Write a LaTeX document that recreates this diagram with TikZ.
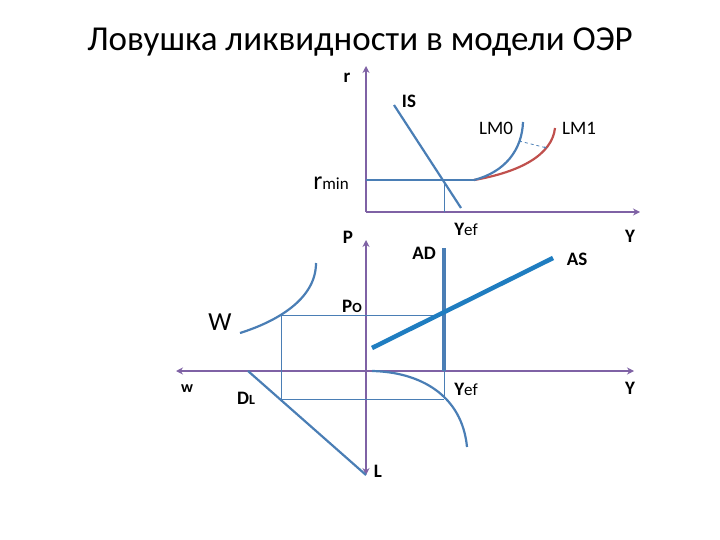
\documentclass[tikz,border=0pt]{standalone}
\usepackage{fontspec}
\setmainfont{Carlito}
\usetikzlibrary{arrows.meta}
\definecolor{ax}{HTML}{7F62A5}
\definecolor{bl}{HTML}{4A7EB5}
\definecolor{rd}{HTML}{C0504D}
\definecolor{lb}{HTML}{1F7DC0}
\begin{document}
\begin{tikzpicture}[x=1pt,y=-1pt,
  axis/.style={ax,line width=1.6pt,-{Stealth[length=7pt,width=7pt]}},
  curve/.style={bl,line width=2.2pt},
  guide/.style={bl,line width=0.6pt},
  lab/.style={font=\bfseries\fontsize{19}{19}\selectfont,inner sep=0pt}]
\useasboundingbox (0,0) rectangle (720,540);
\node[font=\fontsize{35}{35}\selectfont] (title) at (360,42) {Ловушка ликвидности в модели ОЭР};
% top panel
\coordinate (o1) at (366,212);
\coordinate (rt) at (366,66);
\coordinate (yr) at (640,212);
\draw[axis] (o1) -- (rt);
\draw[axis] (o1) -- (yr);
\coordinate (rm) at (366,180);
\coordinate (e1) at (474,180);
\draw[curve] (rm) -- (e1);
\coordinate (is1) at (394,105);
\coordinate (is2) at (461,208);
\draw[curve] (is1) -- (is2);
\coordinate (x1) at (444,180);
\coordinate (x1b) at (444,212);
\draw[guide] (x1) -- (x1b);
\coordinate (lm0) at (523,122);
\coordinate (lm1) at (555,128);
\draw[rd,line width=2.2pt] (e1) .. controls (520,172) and (552,155) .. (lm1);
\draw[curve] (e1) .. controls (505,172) and (522,150) .. (lm0);
\coordinate (d1) at (519,141);
\coordinate (d2) at (547,148);
\draw[bl,line width=0.8pt,dashed,-{Stealth[length=3pt]}] (d1) -- (d2);
\node[lab] (r) at (347,78) {r};
\node[lab] (IS) at (409,101) {IS};
\node[lab,font=\fontsize{19}{19}\selectfont] (LM0) at (496,128) {LM0};
\node[lab,font=\fontsize{19}{19}\selectfont] (LM1) at (579,128) {LM1};
\node[inner sep=0pt] (rmin) at (331,183) {\fontsize{26}{26}\selectfont r\fontsize{17}{17}\selectfont min};
% bottom panel
\coordinate (o2) at (366,371);
\coordinate (pt) at (366,240);
\coordinate (lb0) at (366,475);
\coordinate (wl) at (176,371);
\coordinate (yb) at (634,371);
\draw[axis] (o2) -- (pt);
\draw[axis] (o2) -- (lb0);
\draw[axis] (o2) -- (wl);
\draw[axis] (o2) -- (yb);
\coordinate (p0a) at (281,315);
\coordinate (p0b) at (444,315);
\coordinate (qa) at (281,399);
\coordinate (qb) at (444,399);
\draw[guide] (p0a) -- (p0b);
\draw[guide] (qa) -- (qb);
\draw[guide] (p0a) -- (qa);
\draw[guide] (o2 -| qb) -- (qb);
\coordinate (ad1) at (444,248);
\draw[bl,line width=3.5pt] (ad1) -- (o2 -| ad1);
\coordinate (as1) at (372,348);
\coordinate (as2) at (553,258);
\draw[lb,line width=4.5pt] (as1) -- (as2);
\coordinate (w1) at (240,333);
\coordinate (w2) at (316,263);
\draw[curve] (w1) .. controls (275,322) and (316,300) .. (w2);
\coordinate (dl1) at (248,371);
\draw[curve] (dl1) -- (lb0);
\coordinate (c1) at (372,371);
\coordinate (c2) at (467,447);
\draw[curve] (c1) .. controls (420,372) and (462,395) .. (c2);
\node[lab] (P) at (348,237) {P};
\node[lab] (AD) at (424,253) {AD};
\node[lab] (AS) at (577,259) {AS};
\node[lab] (P0) at (352,306) {P\fontsize{14}{14}\selectfont O};
\node[font=\fontsize{26}{26}\selectfont,inner sep=0pt] (W) at (220,322) {W};
\node[lab,font=\bfseries\fontsize{16}{16}\selectfont] (w) at (187,389) {w};
\node[lab] (DL) at (246,398) {D\fontsize{14}{14}\selectfont L};
\node[lab] (Yef1) at (466,229) {Y\fontsize{17}{17}\selectfont\mdseries ef};
\node[lab] (Yef2) at (466,389) {Y\fontsize{17}{17}\selectfont\mdseries ef};
\node[lab] (Y1) at (630,236) {Y};
\node[lab] (Y2) at (630,388) {Y};
\node[lab] (L) at (378,471) {L};
\end{tikzpicture}
\end{document}
